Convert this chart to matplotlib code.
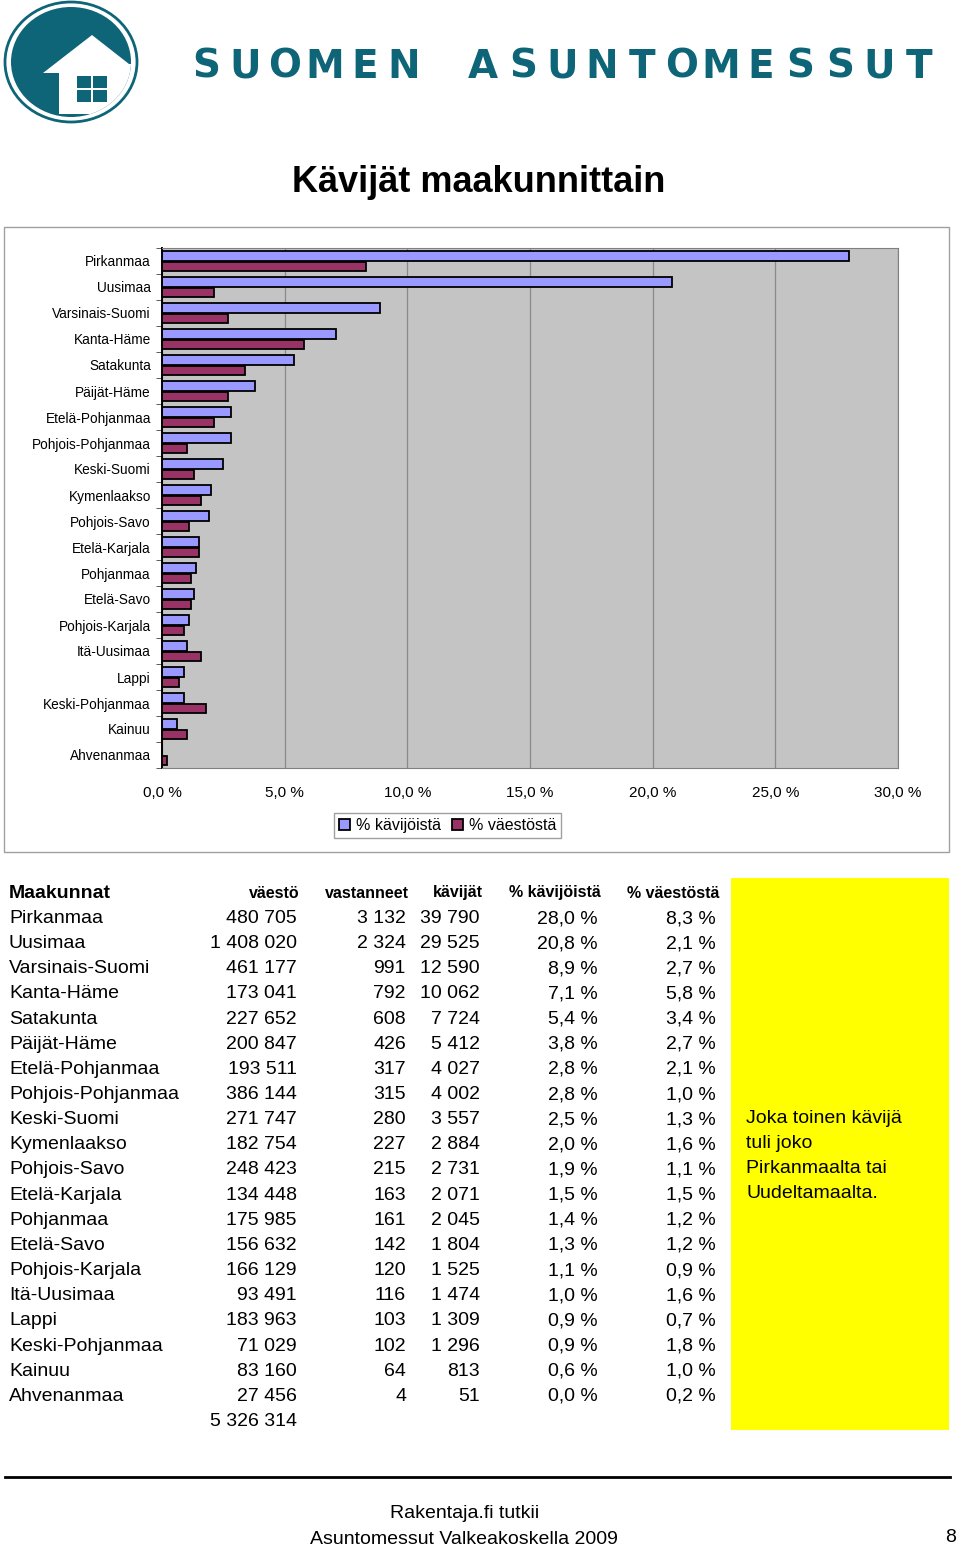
import numpy as np
from matplotlib import pyplot as plt
from matplotlib.patches import Ellipse, Polygon, Rectangle

plt.rcParams['font.family'] = ['Liberation Sans', 'DejaVu Sans']

regions = ['Pirkanmaa', 'Uusimaa', 'Varsinais-Suomi', 'Kanta-Häme', 'Satakunta',
           'Päijät-Häme', 'Etelä-Pohjanmaa', 'Pohjois-Pohjanmaa', 'Keski-Suomi',
           'Kymenlaakso', 'Pohjois-Savo', 'Etelä-Karjala', 'Pohjanmaa', 'Etelä-Savo',
           'Pohjois-Karjala', 'Itä-Uusimaa', 'Lappi', 'Keski-Pohjanmaa', 'Kainuu',
           'Ahvenanmaa']
vaesto = [480705, 1408020, 461177, 173041, 227652, 200847, 193511, 386144, 271747,
          182754, 248423, 134448, 175985, 156632, 166129, 93491, 183963, 71029,
          83160, 27456]
vaesto_total = 5326314
vastanneet = [3132, 2324, 991, 792, 608, 426, 317, 315, 280, 227, 215, 163, 161,
              142, 120, 116, 103, 102, 64, 4]
kavijat = [39790, 29525, 12590, 10062, 7724, 5412, 4027, 4002, 3557, 2884, 2731,
           2071, 2045, 1804, 1525, 1474, 1309, 1296, 813, 51]
pct_kavijoista = [28.0, 20.8, 8.9, 7.1, 5.4, 3.8, 2.8, 2.8, 2.5, 2.0, 1.9, 1.5,
                  1.4, 1.3, 1.1, 1.0, 0.9, 0.9, 0.6, 0.0]
pct_vaestosta = [8.3, 2.1, 2.7, 5.8, 3.4, 2.7, 2.1, 1.0, 1.3, 1.6, 1.1, 1.5, 1.2,
                 1.2, 0.9, 1.6, 0.7, 1.8, 1.0, 0.2]
x_ticks = [0, 5, 10, 15, 20, 25, 30]

TEAL = '#0e6577'
W, H = 960, 1545


def fmt_int(v):
    return f'{v:,}'.replace(',', ' ')


def fmt_pct(p):
    return f'{p:.1f} %'.replace('.', ',')


def draw_logo(bg):
    ring = Ellipse((71, 62), 132, 120, facecolor='white', edgecolor=TEAL, lw=2)
    bg.add_patch(ring)
    inner = Ellipse((71, 62), 120, 110, facecolor=TEAL, edgecolor='none')
    bg.add_patch(inner)
    house = Polygon([(92, 35), (43, 73), (59, 73), (59, 114), (150, 114),
                     (150, 64), (129, 64)], closed=True, facecolor='white',
                    edgecolor='none')
    bg.add_patch(house)
    house.set_clip_path(inner)
    # window
    for wx in (77, 93):
        for wy in (76, 90):
            bg.add_patch(Rectangle((wx, wy), 13.5, 12, facecolor=TEAL, edgecolor='none'))
    # letter-spaced company name
    name = 'SUOMEN ASUNTOMESSUT'
    pitch = (943 - 190) / len(name)
    for i, ch in enumerate(name):
        bg.text(190 + pitch * (i + 0.4), 67, ch, ha='center', va='center',
                fontsize=28, fontweight='bold', color=TEAL, family='DejaVu Sans')


def draw_chart(fig, bg):
    bg.add_patch(Rectangle((4, 227), 945, 625, facecolor='white',
                           edgecolor='#a0a0a0', lw=1))
    ax = fig.add_axes([162 / W, 1 - 768 / H, 736 / W, 520 / H], zorder=2)
    ax.set_facecolor('#c4c4c4')
    y = np.arange(len(regions))
    b1 = ax.barh(y - 0.18, pct_kavijoista, height=0.38, color='#9999ff',
                 edgecolor='black', lw=1.3, label='% kävijöistä')
    b2 = ax.barh(y + 0.21, pct_vaestosta, height=0.38, color='#993366',
                 edgecolor='black', lw=1.3, label='% väestöstä')
    ax.set_xlim(0, 30)
    ax.set_ylim(len(regions) - 0.5, -0.5)
    ax.set_xticks(x_ticks)
    ax.set_xticklabels([fmt_pct(t) for t in x_ticks], fontsize=11)
    ax.set_yticks(y)
    ax.set_yticklabels(regions, fontsize=9.8)
    ax.set_yticks(np.arange(len(regions) + 1) - 0.5, minor=True)
    ax.tick_params(axis='y', which='major', length=0, pad=8)
    ax.tick_params(axis='y', which='minor', length=4, color='#404040')
    ax.tick_params(axis='x', length=0, pad=13)
    ax.set_axisbelow(True)
    ax.grid(axis='x', color='#8a8a8a', lw=0.9)
    for s in ('top', 'right', 'bottom'):
        ax.spines[s].set_color('#808080')
    ax.spines['left'].set_color('black')
    ax.spines['left'].set_linewidth(1.4)
    ax.legend(handles=[b1, b2], loc='center', ncol=2, fontsize=11.5,
              bbox_to_anchor=(447.5 / W, 1 - 825.5 / H), bbox_transform=fig.transFigure,
              frameon=True, fancybox=False, edgecolor='#a0a0a0', framealpha=1,
              handlelength=0.7, handleheight=0.7, handletextpad=0.35,
              columnspacing=0.7, borderpad=0.3, borderaxespad=0)


def draw_table(bg):
    bg.add_patch(Rectangle((731, 878), 218, 552, facecolor='#ffff00', edgecolor='none'))
    hy = 893
    bg.text(9, hy, 'Maakunnat', ha='left', va='center', fontsize=14, fontweight='bold')
    heads = [('väestö', 300), ('vastanneet', 409), ('kävijät', 483),
             ('% kävijöistä', 601), ('% väestöstä', 719)]
    for txt, xr in heads:
        bg.text(xr, hy, txt, ha='right', va='center', fontsize=11.5, fontweight='bold')
    step = 25.15
    for i, name in enumerate(regions):
        ry = 918.5 + step * i
        bg.text(9, ry, name, ha='left', va='center', fontsize=14)
        bg.text(297, ry, fmt_int(vaesto[i]), ha='right', va='center', fontsize=14)
        bg.text(406, ry, fmt_int(vastanneet[i]), ha='right', va='center', fontsize=14)
        bg.text(480, ry, fmt_int(kavijat[i]), ha='right', va='center', fontsize=14)
        bg.text(598, ry, fmt_pct(pct_kavijoista[i]), ha='right', va='center', fontsize=14)
        bg.text(716, ry, fmt_pct(pct_vaestosta[i]), ha='right', va='center', fontsize=14)
    bg.text(297, 918.5 + step * len(regions), fmt_int(vaesto_total), ha='right',
            va='center', fontsize=14)
    note = ['Joka toinen kävijä', 'tuli joko', 'Pirkanmaalta tai', 'Uudeltamaalta.']
    for k, line in enumerate(note):
        bg.text(746, 1118.5 + 25 * k, line, ha='left', va='center', fontsize=14)


fig = plt.figure(figsize=(W / 100, H / 100), dpi=100)
bg = fig.add_axes([0, 0, 1, 1], zorder=0)
bg.set_xlim(0, W)
bg.set_ylim(H, 0)
bg.axis('off')

draw_logo(bg)
bg.text(479, 182, 'Kävijät maakunnittain', ha='center', va='center',
        fontsize=26, fontweight='bold')
draw_chart(fig, bg)
draw_table(bg)

bg.plot([5, 950], [1477, 1477], color='black', lw=2)
bg.text(465, 1513, 'Rakentaja.fi tutkii', ha='center', va='center', fontsize=14)
bg.text(464, 1539, 'Asuntomessut Valkeakoskella 2009', ha='center', va='center', fontsize=14)
bg.text(951, 1537, '8', ha='center', va='center', fontsize=14)

fig.savefig('out.png', dpi=100)
plt.close()
